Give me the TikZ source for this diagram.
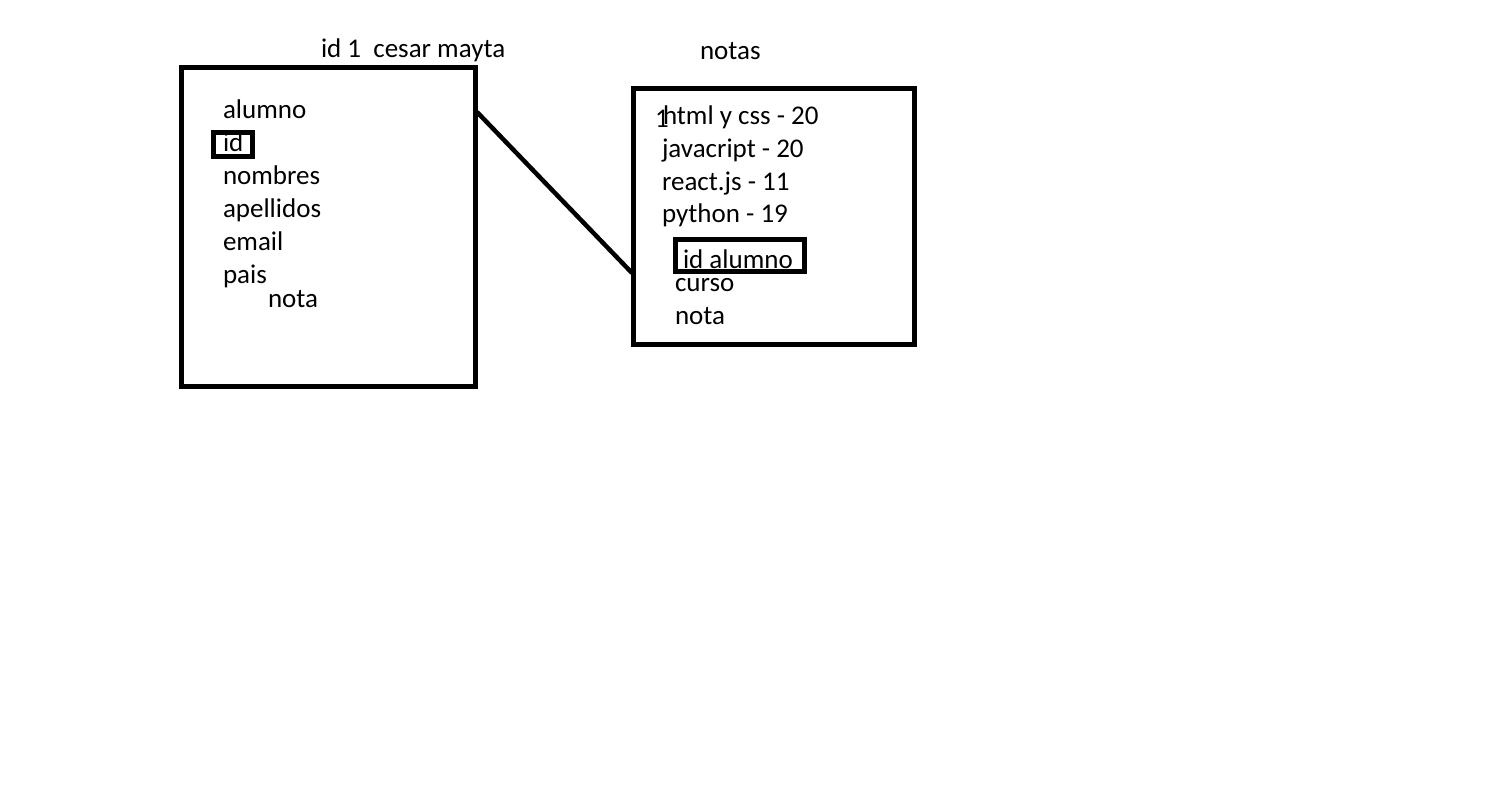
\documentclass[tikz,border=0pt]{standalone}
\usepackage{fontspec}
\setmainfont{Carlito}
\begin{document}
\begin{tikzpicture}[x=1pt,y=-1pt,
  every node/.style={inner sep=0pt,outer sep=0pt,anchor=base west,font=\fontsize{27}{31}\selectfont},
  frame/.style={draw=black,line width=5pt},
  keybox/.style={draw=black,line width=5pt},
  link/.style={draw=black,line width=4.5pt}]
\useasboundingbox[fill=white] (0,0) rectangle (1494,786);
% tables
\draw[frame] (181.5,67.5) rectangle (475,386);
\draw[frame] (633,89) rectangle (914,344);
% primary/foreign key markers
\draw[keybox] (213,133) rectangle (252,157);
\draw[keybox] (675,239.5) rectangle (804,272);
% titles
\node (t1) at (321,58) {id 1\ \ cesar mayta};
\node (t2) at (700,60) {notas};
% alumno fields
\node (a0) at (223,119) {alumno};
\node (a1) at (223,152) {id};
\node (a2) at (223,185) {nombres};
\node (a3) at (223,218) {apellidos};
\node (a4) at (223,251) {email};
\node (a5) at (223,284) {pais};
\node (a6) at (268,308) {nota};
% notas fields
\node (n1) at (655,128) {1};
\node (n0) at (663,125) {html y css - 20};
\node (n2) at (662,158) {javacript - 20};
\node (n3) at (662,191) {react.js - 11};
\node (n4) at (662,223) {python - 19};
\node (n5) at (683,269) {id alumno};
\node (n6) at (675,292) {curso};
\node (n7) at (675,325) {nota};
% relation
\coordinate (p) at (477,112);
\coordinate (q) at (632,273);
\draw[link] (p) -- (q);
\end{tikzpicture}
\end{document}
